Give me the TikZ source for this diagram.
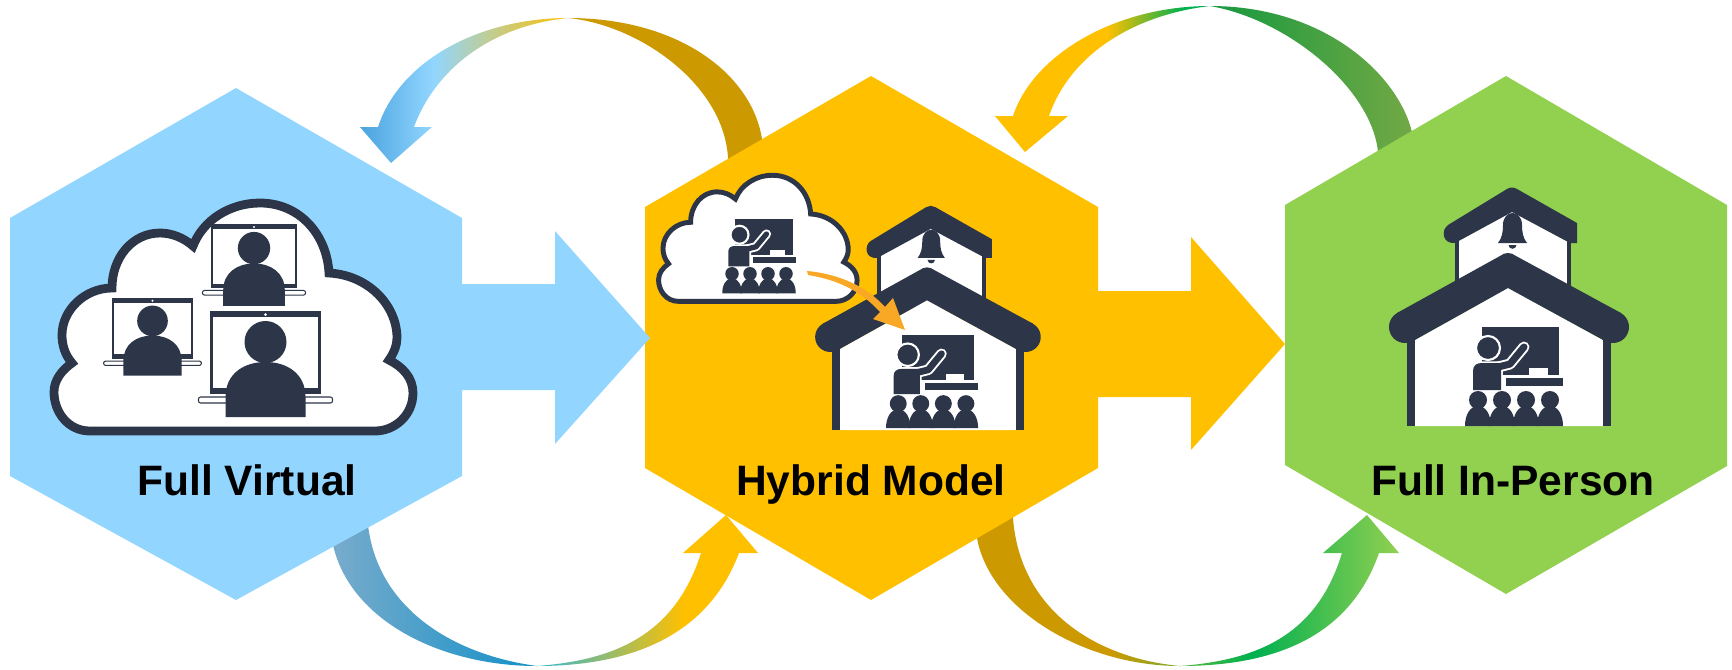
\documentclass[tikz,border=0pt]{standalone}
\usepackage{fontspec}
\setmainfont{Liberation Sans}
\definecolor{virtualblue}{RGB}{146,214,255}
\definecolor{skyedge}{RGB}{74,163,223}
\definecolor{steelblue}{RGB}{122,172,204}
\definecolor{deepblue}{RGB}{19,144,200}
\definecolor{tealblue}{RGB}{53,184,208}
\definecolor{hybridgold}{RGB}{255,192,0}
\definecolor{darkgold}{RGB}{204,153,0}
\definecolor{personal}{RGB}{146,208,80}
\definecolor{strongreen}{RGB}{0,176,80}
\definecolor{forest}{RGB}{31,154,64}
\definecolor{mossgreen}{RGB}{114,169,68}
\definecolor{midgreen}{RGB}{90,184,64}
\definecolor{olivegold}{RGB}{125,168,46}
\definecolor{icondark}{RGB}{44,54,72}
\definecolor{pointer}{RGB}{249,168,37}
\pgfdeclarehorizontalshading{virtualback}{100bp}{color(0bp)=(skyedge); color(25bp)=(skyedge); color(34.1bp)=(virtualblue); color(50.8bp)=(hybridgold); color(50.9bp)=(darkgold); color(100bp)=(darkgold)}
\pgfdeclarehorizontalshading{virtualforth}{100bp}{color(0bp)=(steelblue); color(25bp)=(steelblue); color(49.2bp)=(deepblue); color(49.3bp)=(tealblue); color(66.3bp)=(hybridgold); color(100bp)=(hybridgold)}
\pgfdeclarehorizontalshading{personback}{100bp}{color(0bp)=(hybridgold); color(38.4bp)=(hybridgold); color(47.5bp)=(strongreen); color(50.8bp)=(strongreen); color(50.9bp)=(forest); color(53.5bp)=(forest); color(75bp)=(mossgreen); color(100bp)=(mossgreen)}
\pgfdeclarehorizontalshading{personforth}{100bp}{color(0bp)=(darkgold); color(41.1bp)=(darkgold); color(49.3bp)=(olivegold); color(49.4bp)=(midgreen); color(57.9bp)=(strongreen); color(75bp)=(personal); color(100bp)=(personal)}
\tikzset{
    armwidth/.store in=\armwidth,
    armwidth=2pt,
    modeltext/.style={font=\fontsize{12.1}{14}\selectfont\bfseries, text=black, inner sep=0pt, anchor=base},
    cloudicon/.pic={
        \draw[icondark, fill=white] (90,431) .. controls (68,431) and (54,412) .. (54,392)
            .. controls (54,380) and (62,370) .. (72,363)
            .. controls (65,355) and (62,345) .. (62,335)
            .. controls (62,310) and (85,288) .. (112,288)
            .. controls (112,258) and (132,233) .. (160,233)
            .. controls (172,233) and (184,238) .. (193,246)
            .. controls (203,220) and (230,203) .. (260,203)
            .. controls (300,203) and (327,235) .. (329,273)
            .. controls (368,275) and (397,305) .. (397,338)
            .. controls (397,345) and (394,353) .. (389,360)
            .. controls (403,367) and (413,378) .. (413,393)
            .. controls (413,415) and (395,431) .. (375,431) -- cycle;
    },
    laptop/.pic={
        \draw[icondark, fill=white, line width=.6pt] (-54,0) rectangle (54,81);
        \fill[icondark] (-54,0) rectangle (54,5);
        \fill[icondark] (-54,76) rectangle (54,81);
        \fill[white] (0,2.5) circle (1.5);
        \draw[icondark, fill=white, line width=.3pt, rounded corners=.6pt] (-67,85) rectangle (67,91);
        \fill[icondark] (0,30) circle (21);
        \fill[icondark] (-40,105) -- (-40,85) .. controls (-40,62) and (-22,50) .. (0,50) .. controls (22,50) and (40,62) .. (40,85) -- (40,105) -- cycle;
    },
    classroom/.pic={
        \fill[icondark] (0,0) rectangle (77,48);
        \fill[icondark] (24,51) rectangle (81,59);
        \fill[white] (47,41) rectangle (66,48);
        \draw[white, line width=\armwidth+1.1pt, line cap=round, line join=round] (16,40) -- (28,37) -- (42,20);
        \filldraw[fill=white, draw=white, line width=1pt] (-9,63) -- (-9,44) .. controls (-9,38) and (-5,36) .. (0,36) -- (19,36) -- (19,63) -- cycle;
        \filldraw[fill=icondark, draw=white, line width=.6pt] (6,21) circle (12);
        \draw[icondark, line width=\armwidth, line cap=round, line join=round] (16,40) -- (28,37) -- (42,20);
        \fill[icondark] (-9,63) -- (-9,44) .. controls (-9,38) and (-5,36) .. (0,36) -- (19,36) -- (19,63) -- cycle;
        \foreach \sx in {-4,20,44,68} {
            \fill[icondark] (\sx,73) circle (9);
            \fill[icondark] (\sx-13,99) .. controls (\sx-13,88) and (\sx-8,79) .. (\sx,79) .. controls (\sx+8,79) and (\sx+13,88) .. (\sx+13,99) -- cycle;
        }
    },
    house/.pic={
        \fill[white] (-49,-195) -- (4,-222) -- (59,-195) -- (59,-130) -- (-49,-130) -- cycle;
        \fill[icondark] (-53,-190) rectangle (-49,-130);
        \fill[icondark] (59,-190) rectangle (63,-130);
        \fill[icondark] (-60,-201) -- (-1,-237) .. controls (2,-239) and (6,-239) .. (9,-237) -- (69,-203) -- (69,-183) -- (62,-183) -- (4,-214) -- (-53,-183) .. controls (-66,-182) and (-67,-196) .. (-60,-201) -- cycle;
        \fill[icondark] (-10,-183) .. controls (-6,-188) and (-5,-194) .. (-5,-201) .. controls (-5,-209) and (0,-213) .. (4.5,-213) .. controls (9,-213) and (14,-209) .. (14,-201) .. controls (14,-194) and (15,-188) .. (19,-183) -- cycle;
        \fill[icondark] (0.5,-181) -- (8.5,-181) .. controls (8,-176) and (1,-176) .. (0.5,-181) -- cycle;
        \fill[white] (-93,-86) -- (0,-138) -- (95,-86) -- (95,0) -- (-93,0) -- cycle;
        \fill[icondark] (-101,-90) rectangle (-93,0);
        \fill[icondark] (95,-90) rectangle (103,0);
        \fill[icondark] (-111,-113) -- (-8,-170) .. controls (-3,-174) and (3,-174) .. (8,-170) -- (113,-113) -- (97,-85) -- (0,-138) -- (-95,-85) -- cycle;
        \fill[icondark] (-103,-99) circle (16);
        \fill[icondark] (105,-99) circle (16);
    }
}
\begin{document}
\begin{tikzpicture}[x=.01cm, y=-.01cm]
    \useasboundingbox (0,0) rectangle (1732,669);

    \shade[shading=virtualback] (762,170) -- (762,139) .. controls (752,75) and (680,18) .. (568,18) .. controls (480,18) and (400,60) .. (378,127) -- (360,127) -- (391,163) -- (432,127) -- (414,127) .. controls (435,70) and (490,26) .. (568,18) .. controls (640,25) and (724,85) .. (728,158) -- (728,170) -- cycle;
    \shade[shading=virtualforth] (329,525) -- (333,545) .. controls (350,620) and (440,666) .. (537,666) .. controls (640,666) and (710,630) .. (739,553) -- (758,553) -- (726,515) -- (683,553) -- (701,553) .. controls (675,635) and (615,660) .. (537,666) .. controls (455,655) and (378,610) .. (368,525) -- (366,505) -- cycle;
    \shade[shading=personback] (1412,165) -- (1412,132) .. controls (1398,75) and (1325,6) .. (1210,6) .. controls (1115,6) and (1033,55) .. (1013,116) -- (995,116) -- (1025,152) -- (1068,116) -- (1049,116) .. controls (1072,50) and (1140,14) .. (1210,6) .. controls (1290,20) and (1372,90) .. (1378,152) -- (1378,165) -- cycle;
    \shade[shading=personforth] (973,515) -- (977,538) .. controls (990,610) and (1085,666) .. (1180,666) .. controls (1285,666) and (1352,630) .. (1379,553) -- (1399,553) -- (1367,515) -- (1323,553) -- (1342,553) .. controls (1317,635) and (1258,660) .. (1180,666) .. controls (1095,658) and (1020,610) .. (1013,518) -- (1012,500) -- cycle;

    \fill[virtualblue] (236,88) -- (462,218) -- (462,476) -- (236,600) -- (10,476) -- (10,218) -- cycle;
    \fill[hybridgold] (871,76) -- (1098,207) -- (1098,468) -- (871,600) -- (645,468) -- (645,207) -- cycle;
    \fill[personal] (1506,76) -- (1727,205) -- (1727,466) -- (1506,594) -- (1285,465) -- (1285,205) -- cycle;

    \fill[virtualblue] (462,284) -- (555,284) -- (555,231) -- (650,338) -- (555,444) -- (555,390) -- (462,390) -- cycle;
    \fill[hybridgold] (1098,291) -- (1191,291) -- (1191,237) -- (1285,344) -- (1191,450) -- (1191,397) -- (1098,397) -- cycle;

    \pic[line width=2.5pt] at (0,0) {cloudicon};
    \pic[scale=.77] at (254,225) {laptop};
    \pic[scale=.73] at (152.5,299) {laptop};
    \pic at (265.5,312) {laptop};

    \pic[scale=.553, line width=1.4pt] at (628.7,63) {cloudicon};
    \pic[scale=.75, armwidth=1.5pt] at (735,219) {classroom};
    \pic[scale=.94] at (927,430) {house};
    \pic[scale=.94, armwidth=1.9pt] at (902,335) {classroom};
    \fill[pointer] (807,271) .. controls (840,274) and (867,287) .. (885,307) -- (893,298) -- (905,330) -- (873,319) -- (880,312) .. controls (863,293) and (840,280) .. (808,275) -- cycle;

    \pic at (1508,426) {house};
    \pic at (1482,327) {classroom};

    \node[modeltext] (fullvirtual) at (247,495) {Full Virtual};
    \node[modeltext] (hybridmodel) at (871,495) {Hybrid Model};
    \node[modeltext] (fullinperson) at (1513,495) {Full In-Person};
\end{tikzpicture}
\end{document}
